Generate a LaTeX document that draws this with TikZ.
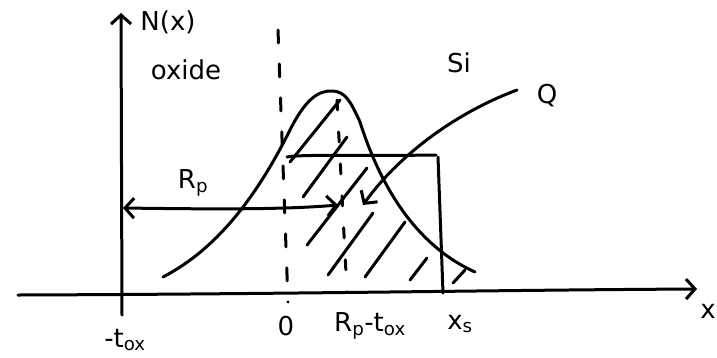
\documentclass[tikz,border=0pt]{standalone}
\usepackage{fontspec}
\setmainfont{DejaVu Sans}
\usetikzlibrary{arrows.meta}
\tikzset{
  pen/.style={line width=3pt, line cap=round, line join=round},
  barb/.style={-{Straight Barb[length=9pt,width=20pt,line width=3pt]}},
  dbarb/.style={{Straight Barb[length=9pt,width=20pt,line width=3pt]}-{Straight Barb[length=9pt,width=20pt,line width=3pt]}},
  dashline/.style={pen, dash pattern=on 13pt off 21pt},
  lbl/.style={font=\fontsize{26}{28}\selectfont, inner sep=0pt}
}
\begin{document}
\begin{tikzpicture}[x=1pt,y=-1pt]
\useasboundingbox (0,0) rectangle (717,357);
% coordinates
\coordinate (xl) at (18,295);
\coordinate (xr) at (697,289);
\coordinate (yb) at (122,315);
\coordinate (yt) at (121,13);
% axes
\draw[pen,barb] (xl) .. controls (300,294) and (500,290) .. (xr);
\draw[pen,barb] (yb) -- (yt);
% dashed lines
\coordinate (d1t) at (278,30);
\coordinate (d1b) at (288,302);
\draw[dashline] (d1t) -- (d1b);
\coordinate (d2t) at (337,100);
\coordinate (d2b) at (347,292);
\draw[pen, dash pattern=on 10pt off 22pt] (d2t) -- (d2b);
% gaussian
\draw[pen] (163,277) .. controls (215,250) and (255,200) .. (290,130)
  .. controls (305,100) and (318,90) .. (333,91)
  .. controls (345,92) and (350,100) .. (360,122)
  .. controls (380,185) and (415,245) .. (475,272);
% rectangle
\coordinate (rt1) at (287,157);
\coordinate (rt2) at (436,155);
\coordinate (rb) at (443,293);
\draw[pen] (rt1) .. controls (300,154) and (380,156) .. (rt2);
\draw[pen] (438,157) -- (rb);
% hatching
\foreach \a/\b in {{(290,162)/(340,100)},{(303,197)/(347,137)},{(307,245)/(367,168)},{(328,275)/(373,213)},{(365,277)/(405,222)},{(410,280)/(427,258)},{(453,283)/(465,270)}}{
  \draw[pen] \a -- \b;
}
% Rp arrow
\coordinate (rpl) at (123,208);
\coordinate (rpr) at (338,205);
\draw[pen,dbarb] (rpl) .. controls (200,209) and (280,210) .. (rpr);
% Q arrow
\coordinate (qs) at (517,90);
\coordinate (qe) at (363,205);
\draw[pen,barb] (qs) .. controls (450,115) and (395,160) .. (qe);
% labels
\node[lbl] (Nx) at (168,22) {N(x)};
\node[lbl] (oxide) at (186,70) {oxide};
\node[lbl] (si) at (459,63) {Si};
\node[lbl] (q) at (547,96) {Q};
\node[lbl] (rp) at (193,183) {R\textsubscript{p}};
\node[lbl] (tox) at (125,340) {-t\textsubscript{ox}};
\node[lbl] (zero) at (286,326) {0};
\node[lbl] (rptox) at (370,326) {R\textsubscript{p}-t\textsubscript{ox}};
\node[lbl] (xs) at (460,324) {x\textsubscript{s}};
\node[lbl] (xlab) at (708,311) {x};
\end{tikzpicture}
\end{document}
